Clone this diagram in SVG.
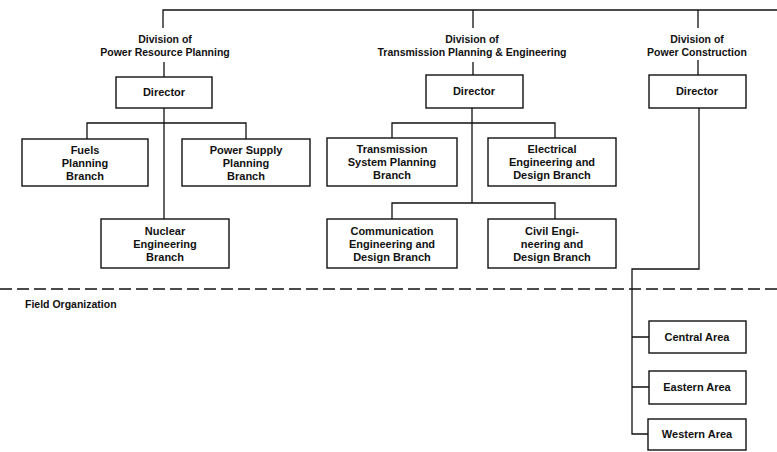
<svg xmlns="http://www.w3.org/2000/svg" width="777" height="452" viewBox="0 0 777 452">
<style>
.b{fill:#fff;stroke:#111;stroke-width:1.4}
.t{font-family:"Liberation Sans",Arial,sans-serif;font-weight:bold;font-size:11px;fill:#111;text-anchor:middle}
.l{font-family:"Liberation Sans",Arial,sans-serif;font-weight:bold;font-size:10.5px;fill:#111;text-anchor:middle}
.c{fill:none;stroke:#111;stroke-width:1.3}
.d{fill:none;stroke:#111;stroke-width:1.4;stroke-dasharray:12 5}
</style>
<rect width="777" height="452" fill="#fff"/>
<g id="connectors">
<path class="c" d="M163 28V10H777"/>
<path class="c" d="M473 10V28M698 10V28"/>
<path class="c" d="M164 62V77M473 62V75M698 60V75"/>
<path class="c" d="M164 108V219M87 139V123H246V139"/>
<path class="c" d="M472 108V203M392 138V123H555V138M392 219V203H555V219"/>
<path class="c" d="M699 108V269H632V434H649M632 337H649M632 387H649"/>
</g>
<g id="field-line">
<line class="d" x1="0" y1="289" x2="777" y2="289"/>
<text class="l" x="25" y="308" style="text-anchor:start">Field Organization</text>
</g>
<g id="div-prp">
<text class="l" x="165" y="43">Division of</text>
<text class="l" x="165" y="56">Power Resource Planning</text>
</g>
<g id="div-tpe">
<text class="l" x="472" y="43">Division of</text>
<text class="l" x="472" y="56">Transmission Planning &amp; Engineering</text>
</g>
<g id="div-pc">
<text class="l" x="697" y="43">Division of</text>
<text class="l" x="697" y="56">Power Construction</text>
</g>
<g id="dir-prp"><rect class="b" x="116" y="77" width="96" height="31"/><text class="t" x="164" y="96">Director</text></g>
<g id="dir-tpe"><rect class="b" x="426" y="75" width="97" height="33"/><text class="t" x="474" y="95">Director</text></g>
<g id="dir-pc"><rect class="b" x="649" y="75" width="97" height="33"/><text class="t" x="697" y="95">Director</text></g>
<g id="fuels"><rect class="b" x="22" y="139" width="126" height="47"/>
<text class="t" x="85" y="154">Fuels</text><text class="t" x="85" y="167">Planning</text><text class="t" x="85" y="180">Branch</text></g>
<g id="power-supply"><rect class="b" x="182" y="139" width="128" height="47"/>
<text class="t" x="246" y="154">Power Supply</text><text class="t" x="246" y="167">Planning</text><text class="t" x="246" y="180">Branch</text></g>
<g id="nuclear"><rect class="b" x="101" y="219" width="128" height="49"/>
<text class="t" x="165" y="235">Nuclear</text><text class="t" x="165" y="248">Engineering</text><text class="t" x="165" y="261">Branch</text></g>
<g id="transmission"><rect class="b" x="327" y="138" width="130" height="48"/>
<text class="t" x="392" y="153">Transmission</text><text class="t" x="392" y="166">System Planning</text><text class="t" x="392" y="179">Branch</text></g>
<g id="electrical"><rect class="b" x="488" y="138" width="128" height="48"/>
<text class="t" x="552" y="153">Electrical</text><text class="t" x="552" y="166">Engineering and</text><text class="t" x="552" y="179">Design Branch</text></g>
<g id="communication"><rect class="b" x="327" y="219" width="130" height="49"/>
<text class="t" x="392" y="235">Communication</text><text class="t" x="392" y="248">Engineering and</text><text class="t" x="392" y="261">Design Branch</text></g>
<g id="civil"><rect class="b" x="488" y="219" width="128" height="49"/>
<text class="t" x="552" y="235">Civil Engi-</text><text class="t" x="552" y="248">neering and</text><text class="t" x="552" y="261">Design Branch</text></g>
<g id="central"><rect class="b" x="649" y="321" width="97" height="32"/><text class="t" x="697" y="341">Central Area</text></g>
<g id="eastern"><rect class="b" x="649" y="371" width="97" height="33"/><text class="t" x="697" y="391">Eastern Area</text></g>
<g id="western"><rect class="b" x="648" y="419" width="98" height="31"/><text class="t" x="697" y="438">Western Area</text></g>
</svg>
